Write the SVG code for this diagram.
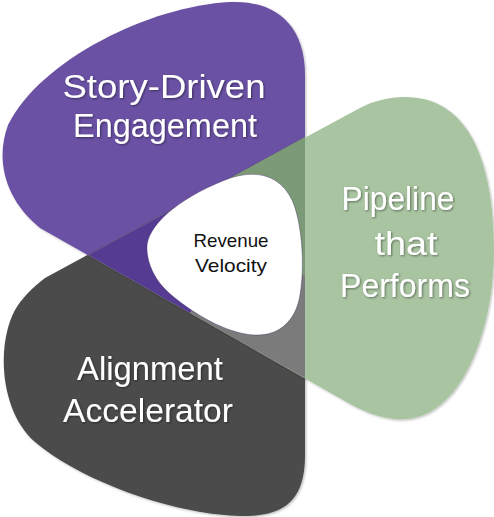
<svg xmlns="http://www.w3.org/2000/svg" width="494" height="517" viewBox="0 0 494 517">
  <defs>
    <filter id="shadow" x="-10%" y="-10%" width="120%" height="120%">
      <feDropShadow dx="1.2" dy="1.2" stdDeviation="1.2" flood-color="#000" flood-opacity="0.25"/>
    </filter>
    <filter id="tshadow" x="-10%" y="-20%" width="120%" height="140%">
      <feDropShadow dx="1" dy="1" stdDeviation="0.8" flood-color="#000" flood-opacity="0.45"/>
    </filter>
  </defs>
  <style>
    .label { font-family: "Liberation Sans", Arial, sans-serif; font-size: 34px; fill: #ffffff; text-anchor: middle; filter: url(#tshadow); }
    .center-label { font-family: "Liberation Sans", Arial, sans-serif; font-size: 19px; fill: #111111; text-anchor: middle; }
  </style>
  <rect width="494" height="517" fill="#ffffff"/>

  <g id="petal-story">
    <path d="M305,378 L305,75 C305,22 272,0 230,2 C150,6 40,60 8,125 C-5,160 5,200 40,228 Z" fill="#6a51a4" filter="url(#shadow)"/>
  </g>
  <g id="petal-alignment">
    <path d="M305,137 L305,455 C305,500 285,517 240,516 C170,514 80,480 35,442 C0,412 -4,345 15,310 C22,298 32,288 45,278 Z" fill="#4b4b4b" filter="url(#shadow)"/>
  </g>
  <g id="petal-pipeline">
    <path d="M88,255 L360,108 C385,95 420,92 445,108 C480,130 494,185 494,250 C494,320 470,390 430,412 C405,425 380,420 350,404 Z" fill="#a9c4a1" filter="url(#shadow)"/>
  </g>

  <g id="overlaps">
    <polygon points="88,255 225,181 230,255 190,313" fill="#553b92"/>
    <polygon points="225,181 305,137 305,275 230,255" fill="#7c9a78"/>
    <polygon points="230,255 305,275 305,378 190,313" fill="#7b7b7b"/>
  </g>

  <g id="center">
    <path d="M147,250 C145,228 175,200 225,180 C255,168 280,175 292,200 C302,222 305,265 300,295 C296,320 280,336 255,335 C230,334 200,318 175,298 C158,285 148,268 147,250 Z" fill="#ffffff" stroke="rgba(40,20,80,0.35)" stroke-width="1"/>
    <text class="center-label" x="231" y="247" textLength="75" lengthAdjust="spacingAndGlyphs">Revenue</text>
    <text class="center-label" x="231" y="272" textLength="72" lengthAdjust="spacingAndGlyphs">Velocity</text>
  </g>

  <g id="labels-story">
    <text class="label" x="164" y="98" textLength="203" lengthAdjust="spacingAndGlyphs">Story-Driven</text>
    <text class="label" x="165" y="137" textLength="184" lengthAdjust="spacingAndGlyphs">Engagement</text>
  </g>
  <g id="labels-pipeline">
    <text class="label" x="398" y="210" textLength="113" lengthAdjust="spacingAndGlyphs">Pipeline</text>
    <text class="label" x="406" y="255" textLength="63" lengthAdjust="spacingAndGlyphs">that</text>
    <text class="label" x="405" y="297" textLength="130" lengthAdjust="spacingAndGlyphs">Performs</text>
  </g>
  <g id="labels-alignment">
    <text class="label" x="150" y="380" textLength="146" lengthAdjust="spacingAndGlyphs">Alignment</text>
    <text class="label" x="148" y="422" textLength="170" lengthAdjust="spacingAndGlyphs">Accelerator</text>
  </g>

  <g id="connectors"/>
</svg>
